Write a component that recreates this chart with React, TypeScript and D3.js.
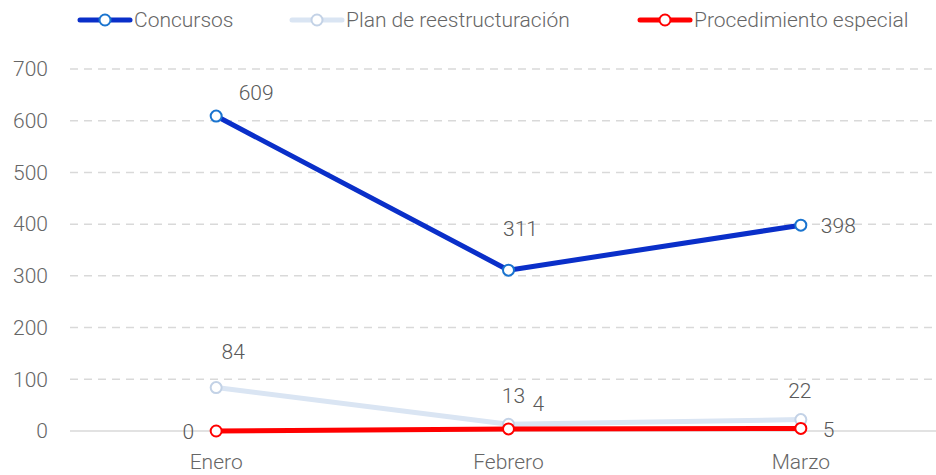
import React, { useRef, useEffect } from 'react';
import * as d3 from 'd3';

const months = ['Enero', 'Febrero', 'Marzo'];
const concursos = [609, 311, 398];
const planReestructuracion = [84, 13, 22];
const procedimientoEspecial = [0, 4, 5];
const yTicks = [0, 100, 200, 300, 400, 500, 600, 700];

interface Series {
	name: string;
	values: number[];
	line: string;
	marker: string;
	legendX: number;
	// label offsets per point [dx, dy, anchor]
	labels: [number, number, string][];
}

const series: Series[] = [
	{
		name: 'Plan de reestructuración', values: planReestructuracion, line: '#dae5f3', marker: '#c3d2e6', legendX: 292,
		labels: [[17, -36, 'middle'], [5, -29, 'middle'], [-1, -29, 'middle']],
	},
	{
		name: 'Procedimiento especial', values: procedimientoEspecial, line: '#ff0000', marker: '#ff0000', legendX: 640,
		labels: [[-22, 1, 'end'], [24, -25, 'start'], [22, 1, 'start']],
	},
	{
		name: 'Concursos', values: concursos, line: '#0a2fc9', marker: '#1a74cf', legendX: 80,
		labels: [[40, -23, 'middle'], [12, -42, 'middle'], [20, 0, 'start']],
	},
];

const legendOrder = [2, 0, 1];

const App: React.FC = () => {
	const svgRef = useRef<SVGSVGElement | null>(null);

	useEffect(() => {
		if (!svgRef.current) return;
		const width = 936;
		const height = 475;
		const font = 'Roboto, sans-serif';
		const fontSize = 21;
		const textColor = '#666666';

		const svg = d3.select(svgRef.current)
			.attr('width', width)
			.attr('height', height);
		svg.selectAll('*').remove();

		const x = d3.scaleBand().domain(months).range([70, 947]);
		const cx = (m: string) => (x(m) ?? 0) + x.bandwidth() / 2;
		const y = d3.scaleLinear().domain([0, 700]).range([431, 69]);

		// Grid lines
		svg.append('g')
			.selectAll('line')
			.data(yTicks.filter(t => t > 0))
			.join('line')
			.attr('x1', 70)
			.attr('x2', 932)
			.attr('y1', d => y(d))
			.attr('y2', d => y(d))
			.attr('stroke', '#d9d9d9')
			.attr('stroke-width', 1.5)
			.attr('stroke-dasharray', '8,6');

		svg.append('line')
			.attr('x1', 70).attr('x2', 936)
			.attr('y1', y(0)).attr('y2', y(0))
			.attr('stroke', '#d9d9d9')
			.attr('stroke-width', 1.5);

		// Y tick labels
		svg.append('g')
			.selectAll('text')
			.data(yTicks)
			.join('text')
			.attr('x', 48)
			.attr('y', d => y(d))
			.attr('dy', '0.35em')
			.attr('text-anchor', 'end')
			.attr('font-family', font)
			.attr('font-weight', 300)
			.attr('font-size', fontSize)
			.attr('fill', textColor)
			.text(d => d);

		// X labels
		svg.append('g')
			.selectAll('text')
			.data(months)
			.join('text')
			.attr('x', d => cx(d))
			.attr('y', 469)
			.attr('text-anchor', 'middle')
			.attr('font-family', font)
			.attr('font-weight', 300)
			.attr('font-size', fontSize)
			.attr('fill', textColor)
			.text(d => d);

		const line = d3.line<number>()
			.x((_, i) => cx(months[i]))
			.y(d => y(d));

		series.forEach(s => {
			const g = svg.append('g');
			g.append('path')
				.attr('d', line(s.values))
				.attr('fill', 'none')
				.attr('stroke', s.line)
				.attr('stroke-width', 5)
				.attr('stroke-linejoin', 'round');
			g.selectAll('circle')
				.data(s.values)
				.join('circle')
				.attr('cx', (_, i) => cx(months[i]))
				.attr('cy', d => y(d))
				.attr('r', 5.5)
				.attr('fill', '#ffffff')
				.attr('stroke', s.marker)
				.attr('stroke-width', 2);
		});

		series.forEach(s => {
			svg.append('g')
				.selectAll('text')
				.data(s.values)
				.join('text')
				.attr('x', (_, i) => cx(months[i]) + s.labels[i][0])
				.attr('y', (d, i) => y(d) + s.labels[i][1])
				.attr('dy', '0.35em')
				.attr('text-anchor', (_, i) => s.labels[i][2])
				.attr('font-family', font)
				.attr('font-weight', 300)
				.attr('font-size', fontSize)
				.attr('fill', '#595959')
				.text(d => d);
		});

		// Legend
		const legend = svg.append('g');
		legendOrder.forEach(idx => {
			const s = series[idx];
			const lg = legend.append('g').attr('transform', `translate(${s.legendX},20)`);
			lg.append('line')
				.attr('x1', 0).attr('x2', 50)
				.attr('y1', 0).attr('y2', 0)
				.attr('stroke', s.line)
				.attr('stroke-width', 5)
				.attr('stroke-linecap', 'round');
			lg.append('circle')
				.attr('cx', 25).attr('cy', 0).attr('r', 5.5)
				.attr('fill', '#ffffff')
				.attr('stroke', s.marker)
				.attr('stroke-width', 2);
			lg.append('text')
				.attr('x', 54)
				.attr('y', 0)
				.attr('dy', '0.35em')
				.attr('font-family', font)
				.attr('font-weight', 300)
				.attr('font-size', fontSize)
				.attr('fill', textColor)
				.text(s.name);
		});
	}, []);

	return (
		<svg ref={svgRef} style={{ position: 'absolute', left: 0, top: 0 }} />
	);
};

export default App;
